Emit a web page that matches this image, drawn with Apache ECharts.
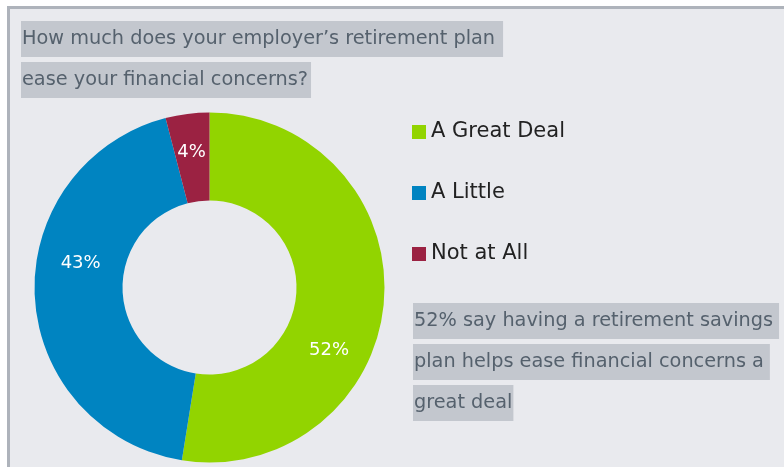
<!DOCTYPE html>
<html>
<head>
<meta charset="utf-8">
<script src="https://cdn.jsdelivr.net/npm/echarts@6/dist/echarts.min.js"></script>
<style>
  html, body { margin: 0; padding: 0; background: #fff; }
  #chart { width: 784px; height: 467px; }
</style>
</head>
<body>
<div id="chart"></div>
<script>
// Survey answers and their shares (percent)
const categories = ['A Great Deal', 'A Little', 'Not at All'];
const shares = [52, 43, 4];
const sliceColors = ['#92d400', '#0084c1', '#9b2242'];

// Question heading and call-out, one entry per highlighted line
const questionLines = [
  'How much does your employer\u2019s retirement plan',
  'ease your financial concerns?'
];
const noteLines = [
  '52% say having a retirement savings',
  'plan helps ease financial concerns a',
  'great deal'
];

const FONT = '"DejaVu Sans", Verdana, sans-serif';
const TEXT_GREY = '#55616d';
const HIGHLIGHT = '#c3c7ce';

// Nudges for the value labels inside the ring (by slice index)
const labelNudge = [
  { dx: -14, dy: 52 },
  { dx: 5, dy: -31 },
  { dx: -1, dy: -2 }
];

function highlightedLine(text, left, top, padRight) {
  return {
    text: text,
    left: left,
    top: top,
    padding: [8, padRight, 8, 1],
    backgroundColor: HIGHLIGHT,
    textStyle: {
      fontFamily: FONT,
      fontSize: 19.3,
      fontWeight: 'normal',
      color: TEXT_GREY,
      lineHeight: 20
    }
  };
}

const titles = [];
questionLines.forEach((t, i) => titles.push(highlightedLine(t, 21, 21 + i * 41, i === 0 ? 8 : 3)));
noteLines.forEach((t, i) => titles.push(highlightedLine(t, 413, 303 + i * 41, i === 2 ? 1 : 6)));

const chart = echarts.init(document.getElementById('chart'), null, { renderer: 'canvas' });

chart.setOption({
  backgroundColor: '#ffffff',
  animation: false,
  title: titles,
  graphic: [{
    type: 'rect',
    z: -10,
    silent: true,
    shape: { x: 8.5, y: 7.5, width: 800, height: 500 },
    style: { fill: '#e9eaee', stroke: '#aeb3bb', lineWidth: 3 }
  }],
  legend: {
    orient: 'vertical',
    left: 412,
    top: 121,
    padding: 0,
    itemGap: 39,
    itemWidth: 14,
    itemHeight: 14,
    icon: 'rect',
    textStyle: {
      fontFamily: FONT,
      fontSize: 21,
      color: '#222222',
      lineHeight: 22,
      padding: [0, 0, 0, 0]
    },
    data: categories
  },
  series: [{
    type: 'pie',
    center: [209.5, 287.5],
    radius: [87, 175],
    startAngle: 90,
    clockwise: true,
    avoidLabelOverlap: false,
    emphasis: { disabled: true },
    itemStyle: { borderWidth: 0 },
    label: {
      show: true,
      position: 'inside',
      formatter: '{c}%',
      fontFamily: FONT,
      fontSize: 18,
      color: '#ffffff'
    },
    labelLine: { show: false },
    labelLayout: function (params) {
      return labelNudge[params.dataIndex];
    },
    data: categories.map((name, i) => ({
      name: name,
      value: shares[i],
      itemStyle: { color: sliceColors[i] }
    }))
  }]
});
</script>
</body>
</html>
